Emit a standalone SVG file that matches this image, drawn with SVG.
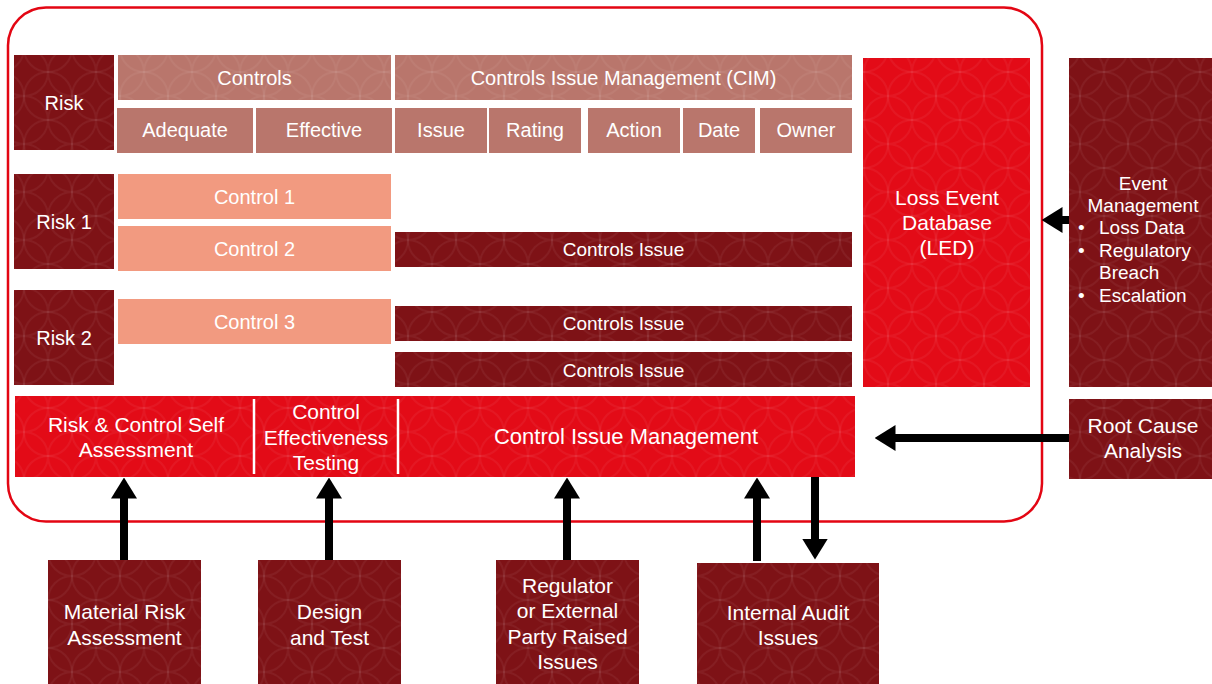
<svg xmlns="http://www.w3.org/2000/svg" width="1212" height="684" viewBox="0 0 1212 684">
<style>
text{font-family:"Liberation Sans",Arial,sans-serif;fill:#fff;text-anchor:middle}
.t20{font-size:20px}.t21{font-size:21px}.t22{font-size:22px}.t19{font-size:19px}
.dk{fill:#7e1216}.hd{fill:#b9766c}.sl{fill:#f29a80}.rd{fill:#e30b17}
.tex{fill:url(#circ)}
.arr{stroke:#000;stroke-width:8;fill:none;marker-end:url(#ah)}
</style>
<defs>
<pattern id="circ" width="48" height="48" patternUnits="userSpaceOnUse">
<g fill="none" stroke="#fff" stroke-opacity="0.05" stroke-width="2">
<circle cx="0" cy="0" r="24"/><circle cx="48" cy="0" r="24"/><circle cx="0" cy="48" r="24"/><circle cx="48" cy="48" r="24"/><circle cx="24" cy="24" r="24"/>
</g>
</pattern>
<marker id="ah" viewBox="0 0 21 26" markerWidth="21" markerHeight="26" refX="0.5" refY="13" orient="auto" markerUnits="userSpaceOnUse">
<path d="M0,0 L21,13 L0,26 Z" fill="#000"/>
</marker>
</defs>
<rect width="1212" height="684" fill="#fff"/>
<rect id="frame" x="8" y="7.5" width="1034" height="514" rx="38" fill="none" stroke="#e30613" stroke-width="2.5"/>

<g id="risk-head"><rect class="dk" x="14" y="55" width="100" height="95"/><rect class="tex" x="14" y="55" width="100" height="95"/><text class="t20" x="64" y="110">Risk</text></g>
<g id="controls-head"><rect class="hd" x="118" y="55" width="273" height="45"/><rect class="tex" x="118" y="55" width="273" height="45"/><text class="t20" x="254.5" y="85">Controls</text></g>
<g id="cim-head"><rect class="hd" x="395" y="55" width="457" height="45"/><rect class="tex" x="395" y="55" width="457" height="45"/><text class="t20" x="623.5" y="85">Controls Issue Management (CIM)</text></g>
<g id="adequate"><rect class="hd" x="117" y="108" width="136" height="45"/><text class="t20" x="185" y="137">Adequate</text></g>
<g id="effective"><rect class="hd" x="256" y="108" width="136" height="45"/><text class="t20" x="324" y="137">Effective</text></g>
<g id="issue"><rect class="hd" x="395" y="108" width="92" height="45"/><text class="t20" x="441" y="137">Issue</text></g>
<g id="rating"><rect class="hd" x="489" y="108" width="92" height="45"/><text class="t20" x="535" y="137">Rating</text></g>
<g id="action"><rect class="hd" x="588" y="108" width="92" height="45"/><text class="t20" x="634" y="137">Action</text></g>
<g id="date"><rect class="hd" x="683" y="108" width="72" height="45"/><text class="t20" x="719" y="137">Date</text></g>
<g id="owner"><rect class="hd" x="760" y="108" width="92" height="45"/><text class="t20" x="806" y="137">Owner</text></g>

<g id="risk1"><rect class="dk" x="14" y="174" width="100" height="95"/><rect class="tex" x="14" y="174" width="100" height="95"/><text class="t20" x="64" y="229">Risk 1</text></g>
<g id="control1"><rect class="sl" x="118" y="174" width="273" height="45"/><text class="t20" x="254.5" y="204">Control 1</text></g>
<g id="control2"><rect class="sl" x="118" y="226" width="273" height="45"/><text class="t20" x="254.5" y="256">Control 2</text></g>
<g id="ci1"><rect class="dk" x="395" y="232" width="457" height="35"/><rect class="tex" x="395" y="232" width="457" height="35"/><text class="t19" x="623.5" y="256">Controls Issue</text></g>

<g id="risk2"><rect class="dk" x="14" y="290" width="100" height="95"/><rect class="tex" x="14" y="290" width="100" height="95"/><text class="t20" x="64" y="345">Risk 2</text></g>
<g id="control3"><rect class="sl" x="118" y="299" width="273" height="45"/><text class="t20" x="254.5" y="329">Control 3</text></g>
<g id="ci2"><rect class="dk" x="395" y="306" width="457" height="35"/><rect class="tex" x="395" y="306" width="457" height="35"/><text class="t19" x="623.5" y="330">Controls Issue</text></g>
<g id="ci3"><rect class="dk" x="395" y="352" width="457" height="35"/><rect class="tex" x="395" y="352" width="457" height="35"/><text class="t19" x="623.5" y="377">Controls Issue</text></g>

<g id="led"><rect class="rd" x="863" y="58" width="167" height="329"/><rect class="tex" x="863" y="58" width="167" height="329"/>
<text class="t21" x="947" y="205">Loss Event</text><text class="t21" x="947" y="230">Database</text><text class="t21" x="947" y="255">(LED)</text></g>

<g id="event-mgmt"><rect class="dk" x="1069" y="58" width="143" height="329"/><rect class="tex" x="1069" y="58" width="143" height="329"/>
<text class="t19" x="1143" y="190">Event</text><text class="t19" x="1143" y="212">Management</text>
<g><text class="t19" x="1078" y="234" style="text-anchor:start">•</text><text class="t19" x="1099" y="234" style="text-anchor:start">Loss Data</text>
<text class="t19" x="1078" y="257" style="text-anchor:start">•</text><text class="t19" x="1099" y="257" style="text-anchor:start">Regulatory</text>
<text class="t19" x="1099" y="279" style="text-anchor:start">Breach</text>
<text class="t19" x="1078" y="302" style="text-anchor:start">•</text><text class="t19" x="1099" y="302" style="text-anchor:start">Escalation</text></g></g>

<g id="process-band"><rect class="rd" x="15" y="396" width="840" height="81"/><rect class="tex" x="15" y="396" width="840" height="81"/>
<line x1="254" y1="399" x2="254" y2="474" stroke="#fff" stroke-width="2.5"/>
<line x1="398" y1="399" x2="398" y2="474" stroke="#fff" stroke-width="2.5"/>
<g id="rcsa"><text class="t21" x="136" y="432">Risk &amp; Control Self</text><text class="t21" x="136" y="457">Assessment</text></g>
<g id="cet"><text class="t21" x="326" y="419">Control</text><text class="t21" x="326" y="445">Effectiveness</text><text class="t21" x="326" y="470">Testing</text></g>
<g id="cim"><text class="t22" x="626" y="444">Control Issue Management</text></g></g>

<g id="root-cause"><rect class="dk" x="1069" y="399" width="143" height="80"/><rect class="tex" x="1069" y="399" width="143" height="80"/><text class="t21" x="1143" y="433">Root Cause</text><text class="t21" x="1143" y="458">Analysis</text></g>

<g id="mra"><rect class="dk" x="48" y="560" width="153" height="124"/><rect class="tex" x="48" y="560" width="153" height="124"/><text class="t21" x="124.5" y="619">Material Risk</text><text class="t21" x="124.5" y="645">Assessment</text></g>
<g id="design"><rect class="dk" x="258" y="560" width="143" height="124"/><rect class="tex" x="258" y="560" width="143" height="124"/><text class="t21" x="329.5" y="619">Design</text><text class="t21" x="329.5" y="645">and Test</text></g>
<g id="regulator"><rect class="dk" x="496" y="560" width="143" height="124"/><rect class="tex" x="496" y="560" width="143" height="124"/><text class="t21" x="567.5" y="593">Regulator</text><text class="t21" x="567.5" y="618">or External</text><text class="t21" x="567.5" y="644">Party Raised</text><text class="t21" x="567.5" y="669">Issues</text></g>
<g id="audit"><rect class="dk" x="697" y="563" width="182" height="121"/><rect class="tex" x="697" y="563" width="182" height="121"/><text class="t21" x="788" y="620">Internal Audit</text><text class="t21" x="788" y="645">Issues</text></g>

<g id="connectors">
<line class="arr" x1="124" y1="560" x2="124" y2="498"/>
<line class="arr" x1="329" y1="560" x2="329" y2="498"/>
<line class="arr" x1="567" y1="560" x2="567" y2="498"/>
<line class="arr" x1="757" y1="561" x2="757" y2="498"/>
<line class="arr" x1="815" y1="477" x2="815" y2="539"/>
<line class="arr" x1="1069" y1="438" x2="895" y2="438"/>
<line class="arr" x1="1069" y1="220" x2="1062" y2="220"/>
</g>
</svg>
